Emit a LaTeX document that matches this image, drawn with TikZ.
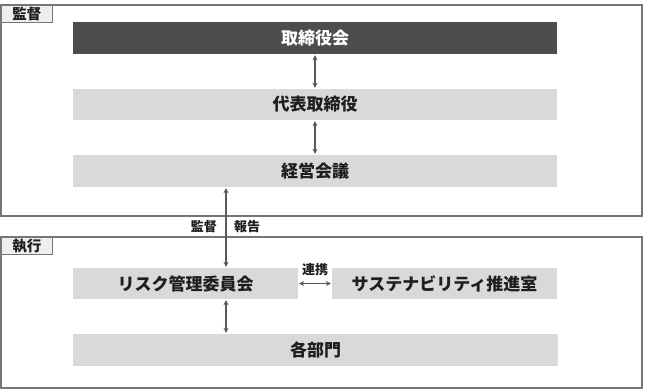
\documentclass[tikz,border=0pt]{standalone}
\usepackage{fontspec}
\setmainfont{Noto Sans CJK JP}
\usetikzlibrary{arrows.meta}
\definecolor{frame}{HTML}{767676}
\definecolor{board}{HTML}{4D4D4D}
\definecolor{bar}{HTML}{D9D9D9}
\definecolor{tab}{HTML}{EEEEEE}
\definecolor{ink}{HTML}{1E1E1E}
\definecolor{link}{HTML}{595959}

\tikzset{
  barbox/.style={fill=bar,text=ink,inner sep=0pt,minimum height=32pt,font=\fontsize{17}{17}\selectfont\bfseries},
  tabbox/.style={draw=frame,fill=tab,line width=1pt,inner sep=0pt,anchor=north west,minimum width=51pt,minimum height=17pt,text=ink,font=\fontsize{14.5}{14.5}\selectfont\bfseries},
  tag/.style={text=ink,inner sep=0pt,font=\fontsize{13}{13}\selectfont\bfseries},
  linkarrow/.style={link,line width=1.4pt,shorten <=1pt,shorten >=1pt,{Stealth[length=5pt,width=5pt]}-{Stealth[length=5pt,width=5pt]}}
}

\begin{document}
\begin{tikzpicture}[x=1pt,y=-1pt]
  \useasboundingbox (0,0) rectangle (645,389);
  % upper frame: supervision
  \draw[frame,line width=1.3pt] (1,5) rectangle (642,216);
  \node[tabbox] (tabsup) at (1,5) {監督};
  \node[barbox,fill=board,text=white,minimum width=484pt] (board) at (315,38) {取締役会};
  \node[barbox,minimum width=484pt,minimum height=31pt] (ceo) at (315,104.5) {代表取締役};
  \node[barbox,minimum width=484pt] (mgmt) at (315,171) {経営会議};
  \draw[linkarrow] (board) -- (ceo);
  \draw[linkarrow] (ceo) -- (mgmt);
  % lower frame: execution
  \draw[frame,line width=1.3pt] (1,237) rectangle (642,388);
  \node[tabbox] (tabexe) at (1,237) {執行};
  \node[barbox,minimum width=225pt,minimum height=31pt] (risk) at (185.5,283.5) {リスク管理委員会};
  \node[barbox,minimum width=225pt,minimum height=31pt] (sust) at (444.5,283.5) {サステナビリティ推進室};
  \node[barbox,minimum width=485pt] (depts) at (315.5,350) {各部門};
  \coordinate (spine) at (226,0);
  \draw[linkarrow] (mgmt.south -| spine) -- (risk.north -| spine);
  \draw[linkarrow] (risk.south -| spine) -- (depts.north -| spine);
  \draw[linkarrow] (risk) -- (sust);
  \node[tag,anchor=east] (supv) at (217,227) {監督};
  \node[tag,anchor=west] (report) at (234,227) {報告};
  \node[tag] (coop) at (315,270) {連携};
\end{tikzpicture}
\end{document}
